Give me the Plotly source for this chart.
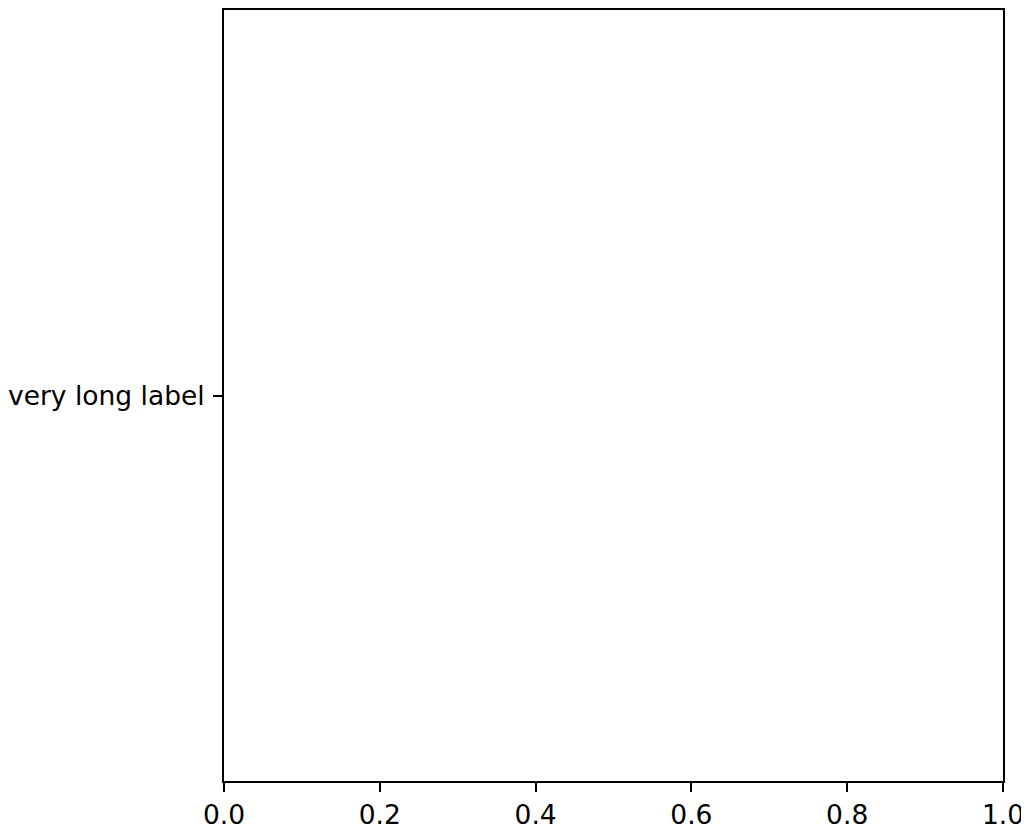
import plotly.graph_objects as go

categories = ["very long label"]
x_ticks = [0.0, 0.2, 0.4, 0.6, 0.8, 1.0]
x_tick_labels = ["0.0", "0.2", "0.4", "0.6", "0.8", "1.0"]

fig = go.Figure()
fig.add_trace(go.Scatter(x=[None], y=[None], mode="markers", showlegend=False, hoverinfo="skip"))

axis_common = dict(
    showline=True, linecolor="black", linewidth=2, mirror=True,
    ticks="outside", ticklen=9, tickwidth=2, tickcolor="black",
    showgrid=False, zeroline=False, automargin=False,
    ticklabeloverflow="allow",
    tickfont=dict(family="DejaVu Sans", size=26.5, color="black"),
)
fig.update_xaxes(range=[0, 1], tickvals=x_ticks, ticktext=x_tick_labels, ticklabelstandoff=0, **axis_common)
fig.update_yaxes(range=[-0.5, 0.5], tickvals=list(range(len(categories))), ticktext=categories,
                 ticklabelstandoff=3, **axis_common)

fig.update_layout(
    width=1021, height=820,
    margin=dict(l=216, r=26, t=2, b=47),
    plot_bgcolor="white", paper_bgcolor="white",
    showlegend=False,
)
fig.write_html("out.html")
